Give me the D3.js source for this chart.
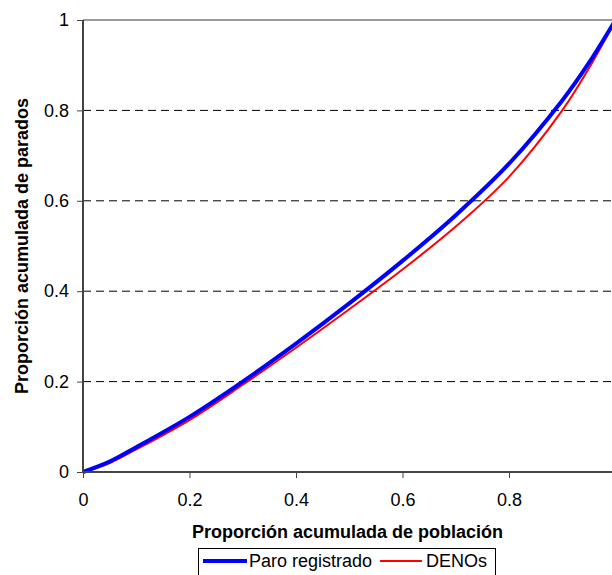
<!DOCTYPE html>
<html>
<head>
<meta charset="utf-8">
<script src="https://cdn.jsdelivr.net/npm/d3@7"></script>
<style>
  body { margin: 0; background: #fff; }
  text { font-family: "Liberation Sans", Arial, sans-serif; }
</style>
</head>
<body>
<div id="chartContainer"></div>
<script>
// cumulative share of population (x) vs cumulative share of unemployed (y)
var xTicks = [0, 0.2, 0.4, 0.6, 0.8];
var yTicks = [0, 0.2, 0.4, 0.6, 0.8, 1];
var seriesNames = ["Paro registrado", "DENOs"];

var popX  = [0, 0.05, 0.1, 0.2, 0.3, 0.4, 0.5, 0.6, 0.7, 0.8, 0.9, 0.95, 1];
var paroY = [0, 0.023, 0.055, 0.122, 0.200, 0.284, 0.373, 0.467, 0.568, 0.682, 0.822, 0.905, 1];
var denosY = [0, 0.020, 0.050, 0.115, 0.193, 0.275, 0.360, 0.448, 0.543, 0.653, 0.800, 0.893, 1];

var W = 612, H = 575;
var svg = d3.select("#chartContainer").append("svg")
  .attr("width", W).attr("height", H);

var mLeft = 83, mTop = 20, mBottom = 472, mRight = 612;
var x = d3.scaleLinear().domain([0, 1]).range([mLeft, 615.5]);
var y = d3.scaleLinear().domain([0, 1]).range([mBottom, mTop]);

// dashed grid
svg.selectAll("line.grid")
  .data(yTicks.filter(function (d) { return d > 0 && d < 1; }))
  .enter().append("line")
    .attr("x1", mLeft).attr("x2", mRight)
    .attr("y1", function (d) { return y(d); })
    .attr("y2", function (d) { return y(d); })
    .attr("stroke", "#000").attr("stroke-width", 1)
    .attr("stroke-dasharray", "8,5");

// top border
svg.append("line")
  .attr("x1", mLeft).attr("x2", mRight)
  .attr("y1", y(1)).attr("y2", y(1))
  .attr("stroke", "#999").attr("stroke-width", 2);

// curves
var pts = function (xs, ys) { return xs.map(function (d, i) { return [d, ys[i]]; }); };
var line = d3.line()
  .x(function (d) { return x(d[0]); })
  .y(function (d) { return y(d[1]); })
  .curve(d3.curveCatmullRom.alpha(0.5));

svg.append("path")
  .datum(pts(popX, denosY))
  .attr("d", line).attr("fill", "none")
  .attr("stroke", "#ff0000").attr("stroke-width", 2);

svg.append("path")
  .datum(pts(popX, paroY))
  .attr("d", line).attr("fill", "none")
  .attr("stroke", "#0000ff").attr("stroke-width", 4);

// axes
var yAxis = d3.axisLeft(y).tickValues(yTicks).tickSize(6).tickPadding(8)
  .tickFormat(function (d) { return d === 0 || d === 1 ? String(d) : d.toFixed(1); });
var gy = svg.append("g").attr("transform", "translate(" + mLeft + ",0)").call(yAxis);
gy.select(".domain").remove();
gy.append("line").attr("y1", mTop).attr("y2", mBottom + 1)
  .attr("stroke", "#444").attr("stroke-width", 2);
gy.selectAll(".tick line").attr("stroke", "#444");
gy.selectAll(".tick text").style("font-size", "18px").attr("fill", "#000");

var xAxis = d3.axisBottom(x).tickValues(xTicks).tickSize(6).tickPadding(15)
  .tickFormat(function (d) { return d === 0 ? "0" : d.toFixed(1); });
var gx = svg.append("g").attr("transform", "translate(0," + mBottom + ")").call(xAxis);
gx.select(".domain").remove();
gx.append("line").attr("x1", mLeft).attr("x2", mRight)
  .attr("stroke", "#444").attr("stroke-width", 2);
gx.selectAll(".tick line").attr("stroke", "#444");
gx.selectAll(".tick text").style("font-size", "18px").attr("fill", "#000");

// axis titles
svg.append("text")
  .attr("x", (mLeft + mRight) / 2).attr("y", 538)
  .attr("text-anchor", "middle")
  .style("font-size", "18px").style("font-weight", "bold")
  .text("Proporción acumulada de población");

svg.append("text")
  .attr("transform", "translate(28," + (mTop + mBottom) / 2 + ") rotate(-90)")
  .attr("text-anchor", "middle")
  .style("font-size", "18px").style("font-weight", "bold")
  .text("Proporción acumulada de parados");

// legend
var lg = svg.append("g");
lg.append("rect")
  .attr("x", 198.5).attr("y", 548.5).attr("width", 297).attr("height", 30)
  .attr("fill", "#fff").attr("stroke", "#000").attr("stroke-width", 1);
var legendItems = [
  { name: seriesNames[0], color: "#0000ff", w: 4, x1: 203, x2: 247, tx: 249 },
  { name: seriesNames[1], color: "#ff0000", w: 2, x1: 380, x2: 422, tx: 426 }
];
legendItems.forEach(function (d) {
  lg.append("line").attr("x1", d.x1).attr("x2", d.x2)
    .attr("y1", 561).attr("y2", 561)
    .attr("stroke", d.color).attr("stroke-width", d.w);
  lg.append("text").attr("x", d.tx).attr("y", 567)
    .style("font-size", "18px").text(d.name);
});
</script>
</body>
</html>
